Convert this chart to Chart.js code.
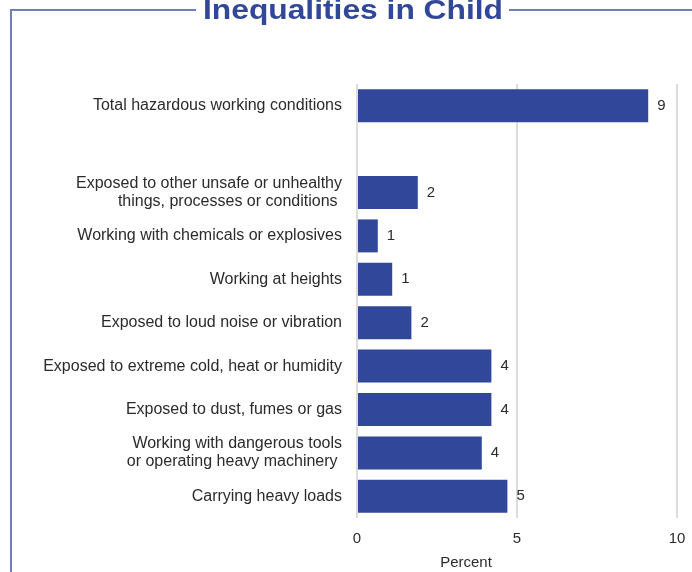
<!DOCTYPE html>
<html>
<head>
<meta charset="utf-8">
<script src="https://cdn.jsdelivr.net/npm/chart.js@4"></script>
<style>
  html, body { margin: 0; padding: 0; background: #fff; }
</style>
</head>
<body>
<canvas id="myChart" width="692" height="572"></canvas>
<script>
const titleText = "Inequalities in Child";
const categories = [
  "Total hazardous working conditions",
  "",
  ["Exposed to other unsafe or unhealthy", "things, processes or conditions "],
  "Working with chemicals or explosives",
  "Working at heights",
  "Exposed to loud noise or vibration",
  "Exposed to extreme cold, heat or humidity",
  "Exposed to dust, fumes or gas",
  ["Working with dangerous tools", "or operating heavy machinery "],
  "Carrying heavy loads",
];
const percentValues = [9.1, null, 1.9, 0.65, 1.1, 1.7, 4.2, 4.2, 3.9, 4.7];
const xTicks = [0, 5, 10];
const axisTitle = "Percent";

const colors = {
  bar: "#31479a",
  frame: "#6f7fb8",
  text: "#2b2b2b",
  grid: "#dcdcdc",
};
const fontFamily = "'Liberation Sans', Arial, sans-serif";

// frame line with the title sitting in the gap, like a fieldset legend
const framePlugin = {
  id: "frame",
  afterDraw(chart) {
    const ctx = chart.ctx;
    ctx.save();
    ctx.strokeStyle = colors.frame;
    ctx.lineWidth = 2;
    ctx.beginPath();
    ctx.moveTo(11, 572);
    ctx.lineTo(11, 10);
    ctx.lineTo(196, 10);
    ctx.moveTo(509, 10);
    ctx.lineTo(692, 10);
    ctx.stroke();

    // axis title sits left of the axis centre in the original
    ctx.font = "15px " + fontFamily;
    ctx.fillStyle = colors.text;
    ctx.textAlign = "center";
    ctx.textBaseline = "middle";
    ctx.fillText(axisTitle, 466, 563);

    ctx.font = "bold 28px " + fontFamily;
    ctx.fillStyle = colors.bar;
    ctx.textBaseline = "alphabetic";
    ctx.textAlign = "left";
    const w = ctx.measureText(titleText).width;
    const sx = 300 / w;
    ctx.translate(203, 19);
    ctx.scale(sx, 1);
    ctx.fillText(titleText, 0, 0);
    ctx.restore();
  },
};

const valueLabels = {
  id: "valueLabels",
  afterDatasetsDraw(chart) {
    const ctx = chart.ctx;
    const meta = chart.getDatasetMeta(0);
    ctx.save();
    ctx.font = "15px " + fontFamily;
    ctx.fillStyle = colors.text;
    ctx.textAlign = "left";
    ctx.textBaseline = "middle";
    meta.data.forEach((bar, i) => {
      const v = percentValues[i];
      if (v == null) return;
      ctx.fillText(String(Math.round(v)), bar.x + 9, bar.y);
    });
    ctx.restore();
  },
};

const ctx = document.getElementById("myChart").getContext("2d");
const myChart = new Chart(ctx, {
  type: "bar",
  data: {
    labels: categories,
    datasets: [
      {
        data: percentValues,
        backgroundColor: colors.bar,
        borderWidth: 0,
        barPercentage: 0.76,
        categoryPercentage: 1,
      },
    ],
  },
  options: {
    indexAxis: "y",
    responsive: false,
    animation: false,
    layout: { padding: { top: 84, right: 15, left: 0, bottom: 0 } },
    plugins: {
      legend: { display: false },
      tooltip: { enabled: false },
    },
    scales: {
      x: {
        min: xTicks[0],
        max: xTicks[xTicks.length - 1],
        afterBuildTicks(scale) {
          scale.ticks = xTicks.map((v) => ({ value: v }));
        },
        afterFit(scale) {
          scale.height = 54;
          scale.paddingRight = 0;
          scale.paddingLeft = 0;
        },
        grid: { color: colors.grid, lineWidth: 2, drawTicks: false },
        border: { display: false },
        ticks: {
          padding: 12,
          color: colors.text,
          font: { size: 15, family: fontFamily },
        },
      },
      y: {
        afterFit(scale) {
          scale.width = 357;
        },
        grid: { display: false, drawTicks: false },
        border: { display: false },
        ticks: {
          padding: 15,
          color: colors.text,
          font: { size: 16, family: fontFamily, lineHeight: 1.125 },
          autoSkip: false,
        },
      },
    },
  },
  plugins: [framePlugin, valueLabels],
});
</script>
</body>
</html>
